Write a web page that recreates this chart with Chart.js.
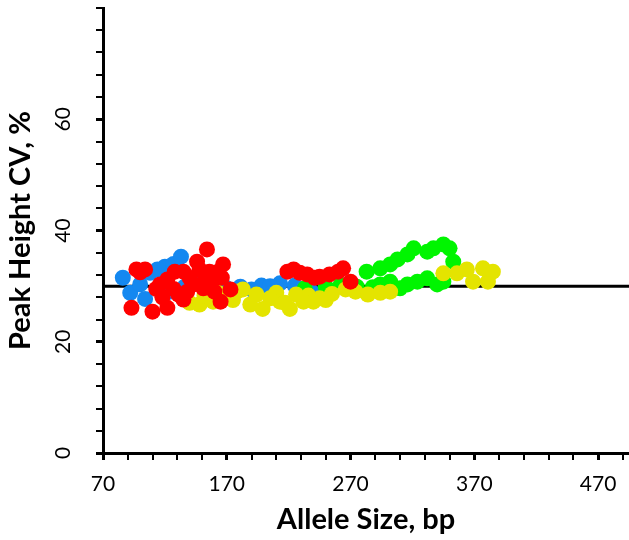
<!DOCTYPE html>
<html>
<head>
<meta charset="utf-8">
<script src="https://cdn.jsdelivr.net/npm/chart.js@4/dist/chart.umd.min.js"></script>
<style>
  html, body { margin: 0; padding: 0; background: #fff; }
  #wrap { width: 629px; height: 540px; }
</style>
</head>
<body>
<div id="wrap"><canvas id="chartjs-0"></canvas></div>
<script>
// allele size (bp) and peak height CV (%) per dye
var blueSize = [86, 92, 100, 104, 108, 114, 120, 127, 133, 116, 124, 136, 148, 160, 181, 198, 213, 225, 237, 247, 253, 170, 190, 205];
var blueCV   = [31.5, 28.8, 30.3, 27.7, 32.4, 33, 33.5, 34, 35.3, 29.9, 29, 29.9, 30.6, 30.1, 29.9, 30.1, 30.5, 30.1, 29.4, 28.8, 29.2, 29.6, 29.4, 30];

var greenSize = [233, 250, 275, 283, 294, 302, 308, 316, 321, 332, 337, 345, 350, 353, 310, 316, 324, 332, 340, 345, 294, 302, 262, 288];
var greenCV   = [29.6, 29.9, 29.9, 32.6, 33.2, 33.9, 34.8, 35.7, 36.8, 36.2, 36.8, 37.5, 36.8, 34.4, 29.6, 30.3, 30.8, 31.4, 30.3, 30.8, 30.3, 30.8, 30.2, 29.8];

var yellowSize = [140, 148, 152, 159, 163, 169, 175, 178, 183, 189, 194, 199, 205, 210, 213, 217, 221, 226, 232, 236, 240, 245, 250, 255,
                  266, 274, 284, 294, 302, 345, 356, 364, 369, 377, 381, 385];
var yellowCV   = [27, 26.7, 28.3, 27.2, 28.8, 28.1, 27.5, 29, 29.4, 26.7, 28.5, 25.9, 27.8, 28.8, 27.2, 27, 25.9, 28.5, 27.2, 28.3, 27.2, 27.8, 27.5, 28.6,
                  29.4, 29, 28.5, 28.8, 29, 32.3, 32.3, 33, 30.8, 33.2, 30.8, 32.6];

var redSize = [93, 97, 100, 104, 110, 113, 118, 122, 116, 122, 127, 128, 131, 135, 135, 140, 143, 138, 146, 148, 152, 154, 156, 158, 151, 162, 166, 167, 165, 173, 160,
               219, 224, 229, 235, 241, 245, 253, 260, 264, 270];
var redCV   = [26.1, 33, 32.5, 33, 25.4, 29.5, 28, 26.1, 30.3, 31.2, 29.5, 32.6, 28.5, 32.6, 27.6, 31.5, 30.3, 29, 34.4, 33, 31, 36.6, 32.6, 31, 29.6, 32.5, 31.5, 33.9, 27.2, 29.4, 29,
               32.6, 33, 32.4, 32.1, 31.5, 31.7, 32.1, 32.6, 33.2, 30.8];

var meanLineX = [70, 495];
var meanLineY = [30, 30];

var xLabels = [70, 170, 270, 370, 470];
var yLabels = [0, 20, 40, 60];

function pairs(xs, ys) {
    var out = [];
    for (var i = 0; i < xs.length; i++) {
        out.push({x: xs[i], y: ys[i]});
    }
    return out;
}

function dots(data, color) {
    return {
        type: "scatter",
        data: data,
        backgroundColor: color,
        borderColor: color,
        borderWidth: 0,
        pointRadius: 8,
        pointHoverRadius: 8
    };
}

var tickFont = {family: "Lato, 'Open Sans', sans-serif", size: 21};
var titleFont = {family: "Lato, 'Open Sans', sans-serif", size: 29, weight: "bold"};

var ctx0 = document.getElementById("chartjs-0");
var myChart = new Chart(ctx0, {
    type: "scatter",
    data: {
        datasets: [
            dots(pairs(redSize, redCV), "rgb(255,0,0)"),
            dots(pairs(yellowSize, yellowCV), "rgb(228,228,0)"),
            dots(pairs(greenSize, greenCV), "rgb(0,245,0)"),
            dots(pairs(blueSize, blueCV), "rgb(20,136,240)"),
            {
                type: "line",
                data: pairs(meanLineX, meanLineY),
                borderColor: "#000",
                borderWidth: 3,
                pointRadius: 0,
                fill: false
            }
        ]
    },
    options: {
        responsive: true,
        maintainAspectRatio: false,
        animation: false,
        layout: {autoPadding: false, padding: {top: 8, right: 0, bottom: 3, left: 3}},
        plugins: {legend: {display: false}, tooltip: {enabled: false}},
        scales: {
            x: {
                type: "linear",
                min: 70,
                max: 495,
                border: {color: "#000", width: 3},
                grid: {
                    drawOnChartArea: false,
                    color: "#000",
                    tickLength: 7,
                    lineWidth: function (c) { return xLabels.indexOf(c.tick.value) >= 0 ? 3 : 2; }
                },
                // minor ticks every 20 bp counted from 70
                afterBuildTicks: function (scale) {
                    var t = [];
                    for (var v = 70; v <= 490; v += 20) {
                        t.push({value: v});
                    }
                    scale.ticks = t;
                },
                afterFit: function (scale) { scale.paddingRight = 0; },
                ticks: {
                    autoSkip: false,
                    maxRotation: 0,
                    color: "#000",
                    font: tickFont,
                    padding: 12,
                    callback: function (v) { return xLabels.indexOf(v) >= 0 ? String(v) : ""; }
                },
                title: {display: true, text: "Allele Size, bp", color: "#000", font: titleFont, padding: {top: -7, bottom: 0}}
            },
            y: {
                type: "linear",
                min: 0,
                max: 80,
                border: {color: "#000", width: 3},
                grid: {
                    drawOnChartArea: false,
                    color: "#000",
                    tickLength: 7,
                    lineWidth: function (c) { return yLabels.indexOf(c.tick.value) >= 0 ? 3 : 2; }
                },
                afterFit: function (scale) { scale.paddingTop = 0; scale.paddingBottom = 0; },
                ticks: {
                    stepSize: 4,
                    autoSkip: false,
                    minRotation: 90,
                    maxRotation: 90,
                    crossAlign: "center",
                    color: "#000",
                    font: tickFont,
                    padding: 21,
                    callback: function (v) { return yLabels.indexOf(v) >= 0 ? String(v) : ""; }
                },
                title: {display: true, text: "Peak Height CV, %", color: "#000", font: titleFont, padding: {top: 0, bottom: -9}}
            }
        }
    }
});
</script>
</body>
</html>
